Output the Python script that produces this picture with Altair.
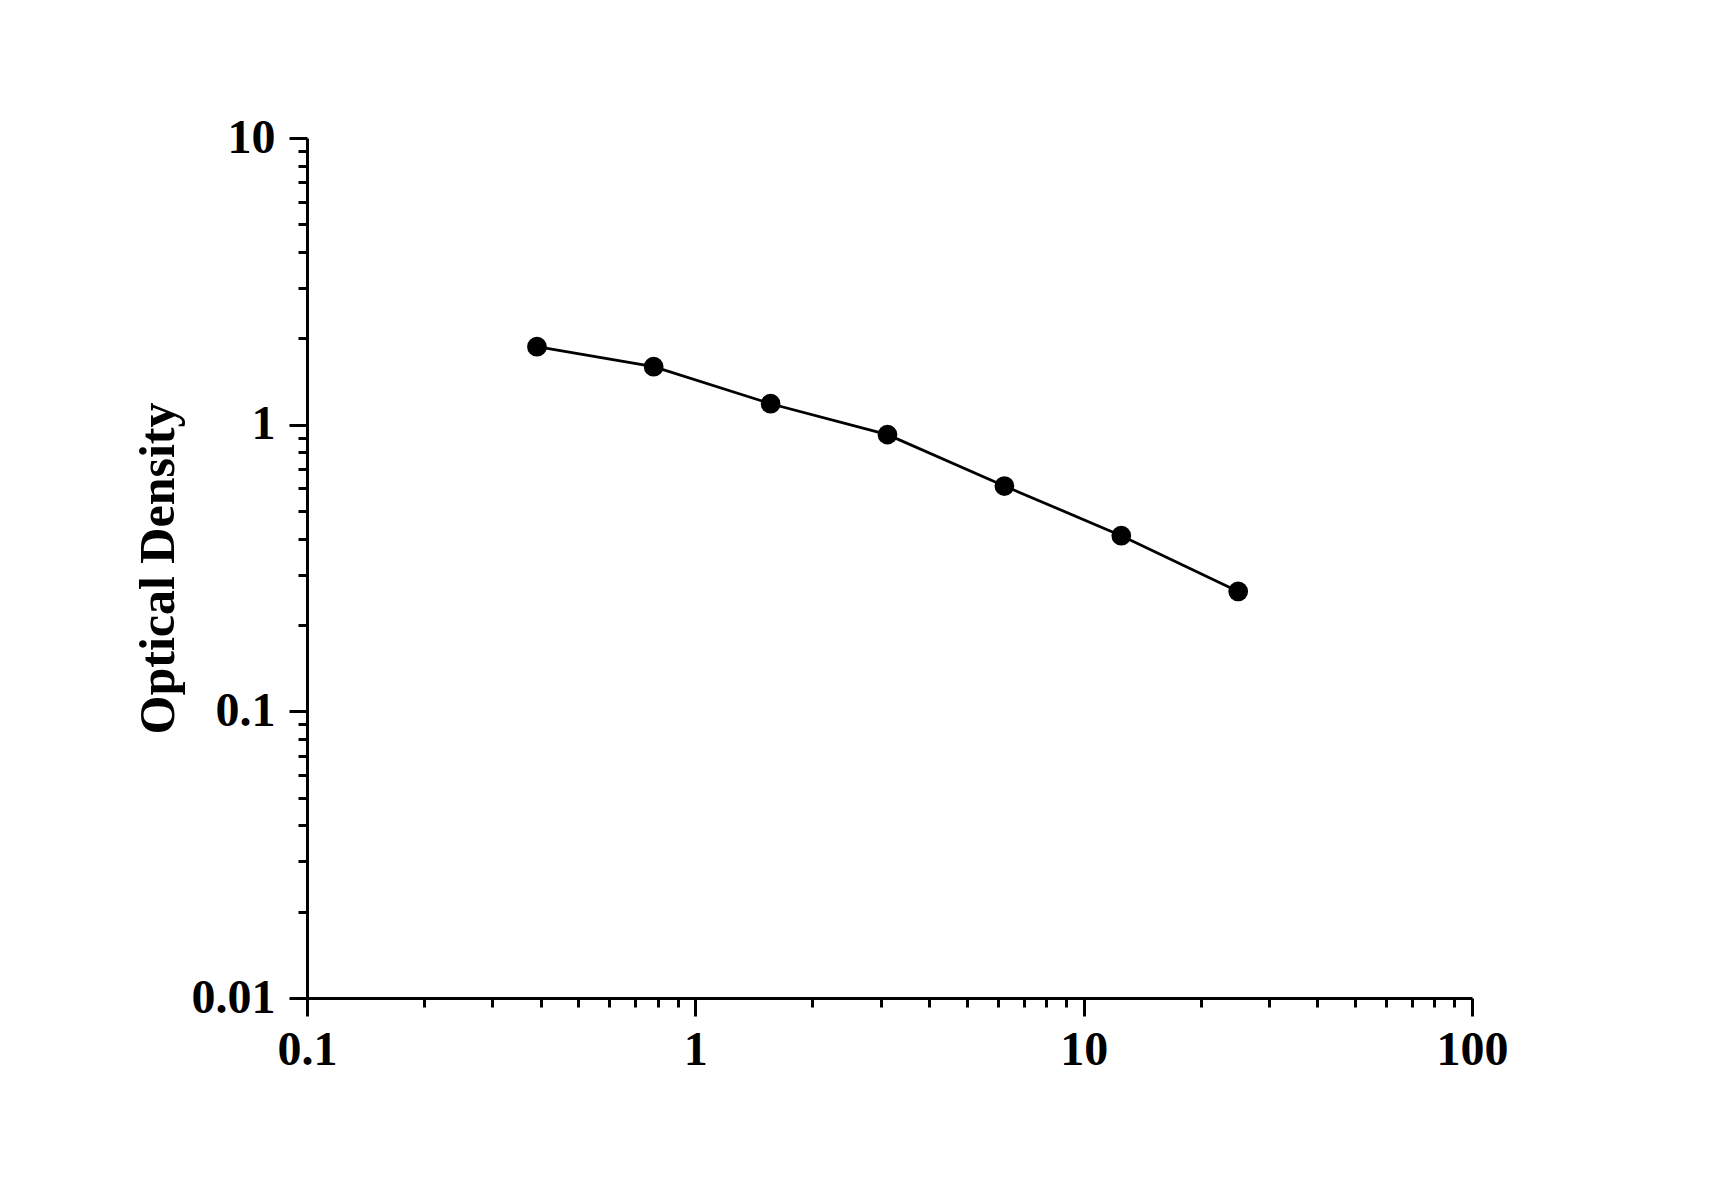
import altair as alt
import pandas as pd

# Data
concentration = [0.391, 0.781, 1.5625, 3.125, 6.25, 12.5, 25.0]
optical_density = [1.871, 1.593, 1.183, 0.923, 0.611, 0.410, 0.262]

x_ticks = [0.1, 0.2, 0.3, 0.4, 0.5, 0.6, 0.7, 0.8, 0.9,
           1, 2, 3, 4, 5, 6, 7, 8, 9,
           10, 20, 30, 40, 50, 60, 70, 80, 90, 100]
y_ticks = [0.01, 0.02, 0.03, 0.04, 0.05, 0.06, 0.07, 0.08, 0.09,
           0.1, 0.2, 0.3, 0.4, 0.5, 0.6, 0.7, 0.8, 0.9,
           1, 2, 3, 4, 5, 6, 7, 8, 9, 10]

df = pd.DataFrame({"conc": concentration, "od": optical_density})

FONT = "Liberation Serif"
is_major = "abs(log(datum.value)/LN10 - round(log(datum.value)/LN10)) < 1e-6"


def make_axis(ticks, title, label_padding, title_padding=None):
    kw = dict(
        values=ticks,
        title=title,
        grid=False,
        domainColor="black",
        domainWidth=3,
        tickColor="black",
        tickWidth=3,
        tickSize={"condition": {"test": is_major, "value": 18}, "value": 9},
        labelExpr=f"({is_major}) ? format(datum.value, '~g') : ''",
        labelOverlap=False,
        labelFlush=False,
        labelFont=FONT,
        labelFontSize=48,
        labelFontWeight="bold",
        labelColor="black",
        labelPadding=label_padding,
        titleFont=FONT,
        titleFontSize=50,
        titleFontWeight="bold",
        titleColor="black",
    )
    if title_padding is not None:
        kw["titlePadding"] = title_padding
    return alt.Axis(**kw)


x_enc = alt.X(
    "conc:Q",
    scale=alt.Scale(type="log", domain=[0.1, 100], nice=False),
    axis=make_axis(x_ticks, None, 10),
)
y_enc = alt.Y(
    "od:Q",
    scale=alt.Scale(type="log", domain=[0.01, 10], nice=False),
    axis=make_axis(y_ticks, "Optical Density", 14, 8),
)

base = alt.Chart(df).encode(x=x_enc, y=y_enc)

line = base.mark_line(color="black", strokeWidth=2.8)
points = base.mark_circle(color="black", opacity=1, size=390)

chart = (
    (line + points)
    .properties(
        width=1165,
        height=860,
        autosize=alt.AutoSizeParams(type="none"),
        padding={"left": 299, "top": 130, "right": 230, "bottom": 190},
        background="white",
    )
    .configure_view(stroke=None)
)

chart.save("out.html", embed_options={"renderer": "svg", "actions": False})
